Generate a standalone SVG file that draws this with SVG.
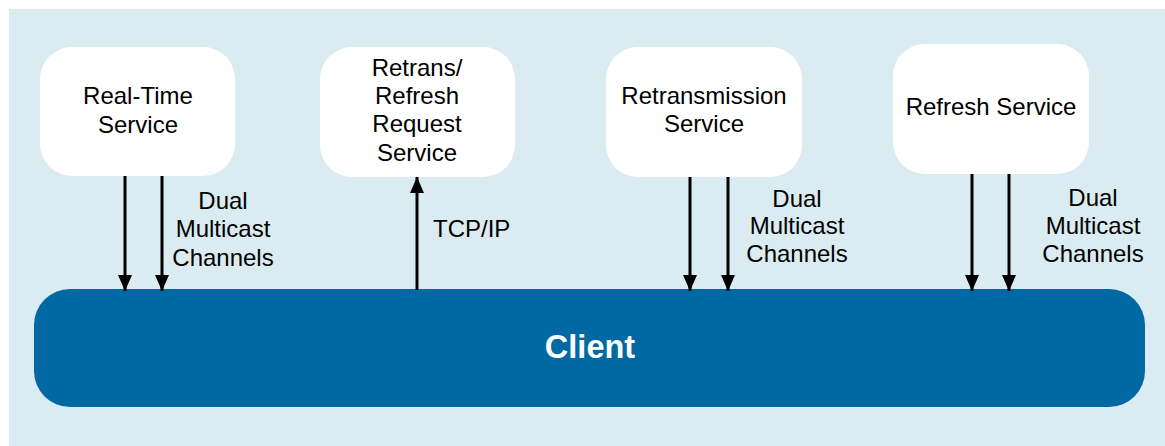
<svg xmlns="http://www.w3.org/2000/svg" width="1165" height="446" viewBox="0 0 1165 446">
<style>
.bg{fill:#DAECF2}
.svc{fill:#FFFFFF}
.client{fill:#0069A3}
.t{font-family:"Liberation Sans",Arial,sans-serif;font-size:24px;fill:#000;text-anchor:middle}
.tl{font-family:"Liberation Sans",Arial,sans-serif;font-size:24px;fill:#000}
.ct{font-family:"Liberation Sans",Arial,sans-serif;font-size:32.5px;font-weight:bold;fill:#FFF;text-anchor:middle}
.c{stroke:#000;stroke-width:3;fill:none}
</style>
<defs>
<marker id="ah" viewBox="0 0 16 14" refX="16" refY="7" markerWidth="16" markerHeight="14" markerUnits="userSpaceOnUse" orient="auto">
<path d="M0,0 L16,7 L0,14 Z" fill="#000"/>
</marker>
</defs>
<rect class="bg" x="9" y="9" width="1156" height="437"/>
<g id="realtime">
<rect class="svc" x="40" y="47" width="195" height="129" rx="32" ry="32"/>
<text class="t" x="138" y="104">Real-Time</text>
<text class="t" x="138" y="133">Service</text>
</g>
<g id="request">
<rect class="svc" x="320" y="47" width="195" height="130" rx="32" ry="32"/>
<text class="t" x="417" y="76">Retrans/</text>
<text class="t" x="417" y="104">Refresh</text>
<text class="t" x="417" y="132">Request</text>
<text class="t" x="417" y="161">Service</text>
</g>
<g id="retrans">
<rect class="svc" x="606" y="47" width="196" height="130" rx="32" ry="32"/>
<text class="t" x="704" y="104">Retransmission</text>
<text class="t" x="704" y="132">Service</text>
</g>
<g id="refresh">
<rect class="svc" x="893" y="44" width="196" height="130" rx="32" ry="32"/>
<text class="t" x="991" y="115">Refresh Service</text>
</g>
<g id="client">
<rect class="client" x="34" y="289" width="1111" height="118" rx="36" ry="36"/>
<text class="ct" x="590" y="358">Client</text>
</g>
<g id="connectors">
<line class="c" x1="125" y1="176" x2="125" y2="291" marker-end="url(#ah)"/>
<line class="c" x1="162" y1="176" x2="162" y2="291" marker-end="url(#ah)"/>
<line class="c" x1="417" y1="290" x2="417" y2="177" marker-end="url(#ah)"/>
<line class="c" x1="690" y1="177" x2="690" y2="291" marker-end="url(#ah)"/>
<line class="c" x1="728" y1="177" x2="728" y2="291" marker-end="url(#ah)"/>
<line class="c" x1="972" y1="174" x2="972" y2="291" marker-end="url(#ah)"/>
<line class="c" x1="1009" y1="174" x2="1009" y2="291" marker-end="url(#ah)"/>
</g>
<g id="labels">
<text class="t" x="223" y="209">Dual</text>
<text class="t" x="223" y="237">Multicast</text>
<text class="t" x="223" y="266">Channels</text>
<text class="tl" x="433" y="237">TCP/IP</text>
<text class="t" x="797" y="207">Dual</text>
<text class="t" x="797" y="234">Multicast</text>
<text class="t" x="797" y="262">Channels</text>
<text class="t" x="1093" y="206">Dual</text>
<text class="t" x="1093" y="234">Multicast</text>
<text class="t" x="1093" y="262">Channels</text>
</g>
</svg>
